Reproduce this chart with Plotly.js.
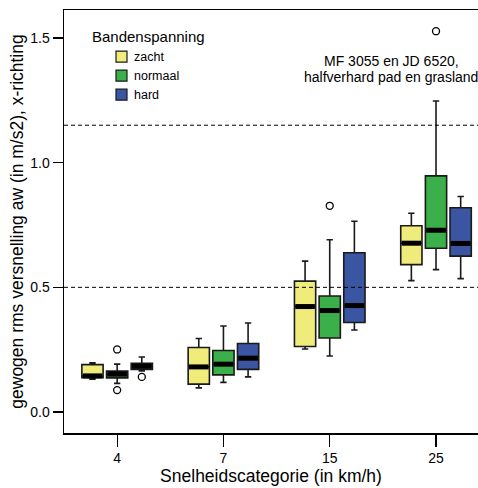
<!DOCTYPE html>
<html>
<head>
<meta charset="utf-8">
<script src="https://cdn.plot.ly/plotly-3.0.1.min.js"></script>
<style>html,body{margin:0;padding:0;overflow:hidden;background:#fff}</style>
</head>
<body>
<div id="chart" style="width:478px;height:488px"></div>
<script>
// ---- data ----
const categories = ['4', '7', '15', '25'];
const groupNames = ['zacht', 'normaal', 'hard'];

const zachtQ1     = [0.138, 0.112, 0.263, 0.591];
const zachtMedian = [0.145, 0.181, 0.423, 0.677];
const zachtQ3     = [0.190, 0.259, 0.525, 0.747];
const zachtLower  = [0.132, 0.097, 0.253, 0.527];
const zachtUpper  = [0.197, 0.295, 0.605, 0.797];

const normaalQ1     = [0.137, 0.149, 0.297, 0.657];
const normaalMedian = [0.152, 0.192, 0.407, 0.729];
const normaalQ3     = [0.164, 0.247, 0.465, 0.947];
const normaalLower  = [0.115, 0.119, 0.225, 0.571];
const normaalUpper  = [0.192, 0.345, 0.691, 1.247];

const hardQ1     = [0.171, 0.171, 0.359, 0.625];
const hardMedian = [0.184, 0.216, 0.427, 0.676];
const hardQ3     = [0.195, 0.275, 0.639, 0.819];
const hardLower  = [0.165, 0.141, 0.329, 0.535];
const hardUpper  = [0.221, 0.357, 0.765, 0.864];

const zachtOutCat = [];          const zachtOutVal = [];
const normaalOutCat = ['4', '4', '15', '25']; const normaalOutVal = [0.251, 0.088, 0.827, 1.527];
const hardOutCat = ['4'];        const hardOutVal = [0.141];

const referenceLines = [1.15, 0.5];
const yTicks = [0, 0.5, 1.0, 1.5];
const annotationLines = ['MF 3055 en JD 6520,', 'halfverhard pad en grasland'];
const legendTitle = 'Bandenspanning';

// ---- styling ----
const colors = ['#EFEC7B', '#3BAF4A', '#3A55A1'];
const offsets = [-0.232, 0, 0.232];
const boxW = 0.2;
const font = 'Liberation Sans, Arial, sans-serif';

const stats = [
  {q1: zachtQ1, med: zachtMedian, q3: zachtQ3, lo: zachtLower, hi: zachtUpper, oc: zachtOutCat, ov: zachtOutVal},
  {q1: normaalQ1, med: normaalMedian, q3: normaalQ3, lo: normaalLower, hi: normaalUpper, oc: normaalOutCat, ov: normaalOutVal},
  {q1: hardQ1, med: hardMedian, q3: hardQ3, lo: hardLower, hi: hardUpper, oc: hardOutCat, ov: hardOutVal}
];

const traces = [];
stats.forEach((s, j) => {
  const xs = categories.map((c, i) => i + offsets[j]);
  traces.push({
    type: 'box', name: groupNames[j], x: xs,
    q1: s.q1, median: s.med, q3: s.q3, lowerfence: s.lo, upperfence: s.hi,
    width: boxW, whiskerwidth: 0.3,
    fillcolor: colors[j], line: {color: '#1a1a1a', width: 1.6},
    boxpoints: false, showlegend: false, hoverinfo: 'skip'
  });
});
// thick median bars
stats.forEach((s, j) => {
  const mx = [], my = [];
  categories.forEach((c, i) => {
    const cx = i + offsets[j];
    mx.push(cx - boxW / 2 + 0.008, cx + boxW / 2 - 0.008, null);
    my.push(s.med[i], s.med[i], null);
  });
  traces.push({type: 'scatter', mode: 'lines', x: mx, y: my,
    line: {color: '#000', width: 5}, showlegend: false, hoverinfo: 'skip'});
});
// outliers
stats.forEach((s, j) => {
  if (!s.oc.length) return;
  traces.push({type: 'scatter', mode: 'markers',
    x: s.oc.map(c => categories.indexOf(c) + offsets[j]), y: s.ov,
    marker: {symbol: 'circle', size: 7, color: '#fff', line: {color: '#000', width: 1.3}},
    showlegend: false, hoverinfo: 'skip'});
});

// pixel helpers for legend / annotation placement
const L = 64, T = 10, W = 414, H = 423;
const px = v => (v - L) / W;
const py = v => (T + H - v) / H;

const shapes = referenceLines.map(v => ({
  type: 'line', xref: 'paper', x0: 0, x1: 1, yref: 'y', y0: v, y1: v,
  line: {color: '#000', width: 1, dash: '4px,3px'}
}));
const annotations = [];
annotations.push({xref: 'paper', yref: 'paper', x: px(90), y: py(37), xanchor: 'left', yanchor: 'middle',
  text: legendTitle, showarrow: false, font: {family: font, size: 15, color: '#000'}});
groupNames.forEach((g, j) => {
  const cy = 56.7 + 19 * j;
  shapes.push({type: 'rect', xref: 'paper', yref: 'paper', x0: px(116), x1: px(127), y0: py(cy - 5.5), y1: py(cy + 5.5),
    fillcolor: colors[j], line: {color: '#1a1a1a', width: 1.2}});
  annotations.push({xref: 'paper', yref: 'paper', x: px(132), y: py(cy), xanchor: 'left', yanchor: 'middle',
    text: g, showarrow: false, font: {family: font, size: 12.5, color: '#000'}});
});
annotationLines.forEach((t, k) => {
  annotations.push({xref: 'paper', yref: 'paper', x: px(391), y: py(61 + 16 * k), xanchor: 'center', yanchor: 'middle',
    text: t, showarrow: false, font: {family: font, size: 14, color: '#000'}});
});

const layout = {
  width: 478, height: 488,
  margin: {l: L, r: 0, t: T, b: 488 - T - H},
  paper_bgcolor: '#fff', plot_bgcolor: '#fff',
  font: {family: font, color: '#000'},
  boxmode: 'overlay',
  xaxis: {
    range: [-0.5, 3.395], tickvals: categories.map((c, i) => i), ticktext: categories,
    showgrid: false, zeroline: false, showline: true, mirror: true, linecolor: '#000', linewidth: 1.5,
    ticks: 'outside', ticklen: 12, tickwidth: 1.2, tickcolor: '#000',
    tickfont: {family: font, size: 14},
    title: {text: 'Snelheidscategorie (in km/h)', font: {family: font, size: 17.5}, standoff: 4}
  },
  yaxis: {
    range: [-0.084, 1.612], tickvals: yTicks, tickformat: '.1f',
    showgrid: false, zeroline: false, showline: true, linecolor: '#000', linewidth: 1.5,
    ticks: 'outside', ticklen: 10, tickwidth: 1.2, tickcolor: '#000',
    tickfont: {family: font, size: 14},
    title: {text: 'gewogen rms versnelling aw (in m/s2), x-richting', font: {family: font, size: 17.5}, standoff: 2}
  },
  shapes: shapes,
  annotations: annotations,
  showlegend: false
};

Plotly.newPlot('chart', traces, layout, {displayModeBar: false, staticPlot: true});
</script>
</body>
</html>
